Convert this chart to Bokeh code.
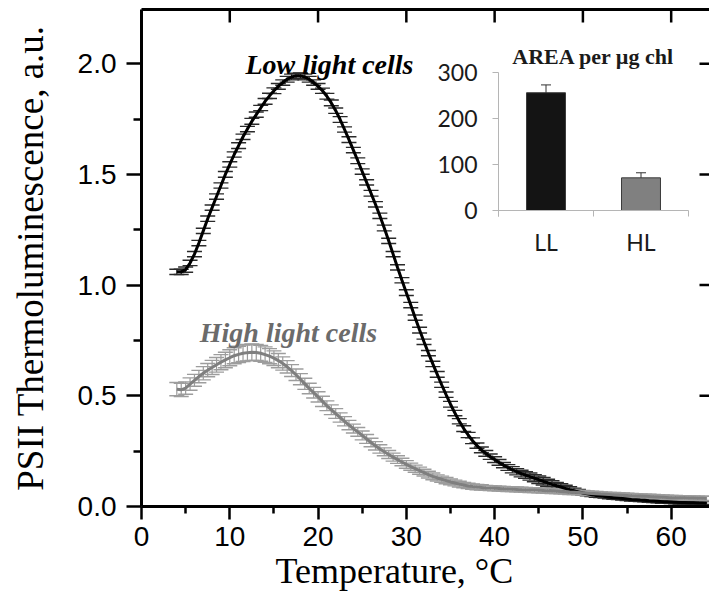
from bokeh.plotting import figure
from bokeh.models import (ColumnDataSource, Whisker, TeeHead, Range1d, LinearAxis,
                          FixedTicker, PrintfTickFormatter, Title)
from bokeh.core.properties import value
from bokeh.embed import file_html
from bokeh.resources import INLINE

# ---------------- data ----------------
temperature = [
    4.0, 4.5, 5.0, 5.5, 6.0, 6.5, 7.0, 7.5, 8.0, 8.5,
    9.0, 9.5, 10.0, 10.5, 11.0, 11.5, 12.0, 12.5, 13.0, 13.5,
    14.0, 14.5, 15.0, 15.5, 16.0, 16.5, 17.0, 17.5, 18.0, 18.5,
    19.0, 19.5, 20.0, 20.5, 21.0, 21.5, 22.0, 22.5, 23.0, 23.5,
    24.0, 24.5, 25.0, 25.5, 26.0, 26.5, 27.0, 27.5, 28.0, 28.5,
    29.0, 29.5, 30.0, 30.5, 31.0, 31.5, 32.0, 32.5, 33.0, 33.5,
    34.0, 34.5, 35.0, 35.5, 36.0, 36.5, 37.0, 37.5, 38.0, 38.5,
    39.0, 39.5, 40.0, 40.5, 41.0, 41.5, 42.0, 42.5, 43.0, 43.5,
    44.0, 44.5, 45.0, 45.5, 46.0, 46.5, 47.0, 47.5, 48.0, 48.5,
    49.0, 49.5, 50.0, 50.5, 51.0, 51.5, 52.0, 52.5, 53.0, 53.5,
    54.0, 54.5, 55.0, 55.5, 56.0, 56.5, 57.0, 57.5, 58.0, 58.5,
    59.0, 59.5, 60.0, 60.5, 61.0, 61.5, 62.0, 62.5, 63.0, 63.5,
    64.0,
]

low_light = [
    1.06, 1.06, 1.07, 1.10, 1.14, 1.19, 1.245, 1.30, 1.35, 1.40,
    1.45, 1.50, 1.545, 1.59, 1.63, 1.67, 1.705, 1.74, 1.77, 1.80,
    1.83, 1.855, 1.878, 1.898, 1.915, 1.93, 1.94, 1.945, 1.945, 1.94,
    1.93, 1.915, 1.898, 1.878, 1.853, 1.823, 1.788, 1.748, 1.703, 1.657,
    1.61, 1.562, 1.513, 1.464, 1.415, 1.365, 1.313, 1.258, 1.20, 1.14,
    1.08, 1.022, 0.966, 0.91, 0.853, 0.797, 0.744, 0.693, 0.644, 0.597,
    0.55, 0.505, 0.462, 0.422, 0.385, 0.352, 0.323, 0.297, 0.275, 0.256,
    0.24, 0.225, 0.212, 0.199, 0.187, 0.176, 0.166, 0.157, 0.149, 0.142,
    0.135, 0.128, 0.121, 0.114, 0.107, 0.10, 0.094, 0.088, 0.082, 0.076,
    0.071, 0.066, 0.061, 0.057, 0.053, 0.05, 0.047, 0.045, 0.042, 0.04,
    0.038, 0.036, 0.034, 0.032, 0.031, 0.029, 0.028, 0.026, 0.025, 0.024,
    0.022, 0.021, 0.02, 0.019, 0.018, 0.018, 0.017, 0.017, 0.016, 0.016,
    0.015,
]

low_light_err = [
    0.012, 0.012, 0.012, 0.012, 0.012, 0.012, 0.012, 0.012, 0.012, 0.012,
    0.012, 0.013, 0.012, 0.012, 0.013, 0.012, 0.012, 0.013, 0.012, 0.012,
    0.013, 0.012, 0.013, 0.013, 0.012, 0.013, 0.013, 0.012, 0.013, 0.013,
    0.013, 0.012, 0.013, 0.012, 0.013, 0.013, 0.012, 0.013, 0.012, 0.013,
    0.012, 0.013, 0.012, 0.012, 0.013, 0.012, 0.012, 0.013, 0.012, 0.012,
    0.012, 0.012, 0.013, 0.012, 0.012, 0.013, 0.012, 0.012, 0.012, 0.013,
    0.012, 0.012, 0.013, 0.012, 0.012, 0.013, 0.012, 0.013, 0.012, 0.013,
    0.013, 0.012, 0.013, 0.013, 0.012, 0.013, 0.014, 0.014, 0.015, 0.015,
    0.016, 0.016, 0.017, 0.017, 0.016, 0.016, 0.015, 0.015, 0.014, 0.013,
    0.012, 0.011, 0.010, 0.009, 0.008, 0.008, 0.007, 0.007, 0.007, 0.007,
    0.007, 0.007, 0.007, 0.007, 0.007, 0.007, 0.007, 0.007, 0.007, 0.007,
    0.007, 0.007, 0.007, 0.007, 0.007, 0.007, 0.007, 0.007, 0.007, 0.007,
    0.007,
]

high_light = [
    0.53, 0.527, 0.535, 0.553, 0.57, 0.587, 0.602, 0.616, 0.628, 0.64,
    0.652, 0.662, 0.672, 0.681, 0.687, 0.692, 0.695, 0.697, 0.696, 0.692,
    0.686, 0.679, 0.670, 0.659, 0.646, 0.631, 0.614, 0.595, 0.575, 0.554,
    0.533, 0.514, 0.495, 0.475, 0.455, 0.437, 0.42, 0.402, 0.385, 0.368,
    0.352, 0.337, 0.321, 0.305, 0.289, 0.274, 0.26, 0.247, 0.235, 0.223,
    0.212, 0.201, 0.19, 0.18, 0.171, 0.162, 0.153, 0.144, 0.136, 0.129,
    0.123, 0.117, 0.111, 0.106, 0.101, 0.097, 0.093, 0.09, 0.088, 0.086,
    0.084, 0.083, 0.082, 0.081, 0.08, 0.079, 0.078, 0.077, 0.076, 0.075,
    0.074, 0.074, 0.073, 0.072, 0.071, 0.07, 0.069, 0.068, 0.067, 0.065,
    0.064, 0.063, 0.062, 0.06, 0.059, 0.058, 0.056, 0.055, 0.054, 0.053,
    0.052, 0.051, 0.05, 0.049, 0.048, 0.047, 0.046, 0.045, 0.044, 0.043,
    0.042, 0.041, 0.04, 0.04, 0.039, 0.039, 0.038, 0.038, 0.037, 0.037,
    0.036,
]

high_light_err = [
    0.030, 0.030, 0.028, 0.028, 0.027, 0.028, 0.030, 0.030, 0.032, 0.033,
    0.034, 0.035, 0.036, 0.036, 0.037, 0.037, 0.037, 0.037, 0.036, 0.036,
    0.035, 0.034, 0.033, 0.032, 0.030, 0.028, 0.027, 0.026, 0.025, 0.025,
    0.024, 0.024, 0.023, 0.023, 0.022, 0.022, 0.022, 0.021, 0.021, 0.021,
    0.020, 0.020, 0.020, 0.020, 0.019, 0.019, 0.019, 0.018, 0.018, 0.018,
    0.017, 0.017, 0.017, 0.016, 0.016, 0.016, 0.015, 0.015, 0.015, 0.014,
    0.014, 0.014, 0.013, 0.013, 0.013, 0.012, 0.012, 0.012, 0.012, 0.012,
    0.011, 0.011, 0.011, 0.011, 0.011, 0.011, 0.011, 0.011, 0.011, 0.011,
    0.011, 0.011, 0.011, 0.011, 0.011, 0.011, 0.011, 0.011, 0.011, 0.011,
    0.010, 0.010, 0.010, 0.010, 0.010, 0.010, 0.010, 0.010, 0.010, 0.010,
    0.010, 0.010, 0.010, 0.010, 0.010, 0.010, 0.010, 0.010, 0.010, 0.010,
    0.010, 0.010, 0.010, 0.010, 0.010, 0.010, 0.010, 0.010, 0.010, 0.010,
    0.010,
]

x_ticks = [0, 10, 20, 30, 40, 50, 60]
x_minor = [5, 15, 25, 35, 45, 55, 65]
y_ticks = [0.0, 0.5, 1.0, 1.5, 2.0]
y_minor = [0.25, 0.75, 1.25, 1.75, 2.25]

inset_categories = ["LL", "HL"]
inset_area = [256, 71]
inset_err = [17, 11]
inset_ticks = [0, 100, 200, 300]
inset_colors = ["#141414", "#808080"]

# ---------------- layout constants ----------------
W, H = 709, 596
FL, FR, FT, FB = 141, 709, 9, 506          # frame edges (px)
X0, X1 = 0, 64.34
Y0, Y1 = 0, 2.245
XPX = (FR - FL) / (X1 - X0)                # px per degree
YPX = (FB - FT) / (Y1 - Y0)                # px per unit

# inset: category -0.5 at px 498, 1.5 at px 688; value 0 at py 210, 300 at py 72
IPX_L, IPX_R = 498, 688
IPY_0, IPY_300 = 210, 72
ix_per = (IPX_R - IPX_L) / 2.0
iy_per = (IPY_0 - IPY_300) / 300.0
ix_start = -0.5 - (IPX_L - FL) / ix_per
ix_end = 1.5 + (FR - IPX_R) / ix_per
iy_start = -(FB - IPY_0) / iy_per
iy_end = 300 + (IPY_300 - FT) / iy_per

SERIF = "Liberation Serif"
SANS = "Liberation Sans"

p = figure(width=W, height=H, output_backend="svg", toolbar_location=None,
           x_range=Range1d(X0, X1), y_range=Range1d(Y0, Y1),
           min_border_left=FL, min_border_right=W - FR, min_border_top=FT,
           min_border_bottom=H - FB)
p.outline_line_color = None
p.xgrid.visible = False
p.ygrid.visible = False
p.background_fill_color = "white"
p.border_fill_color = "white"

p.extra_x_ranges = {"ix": Range1d(ix_start, ix_end)}
p.extra_y_ranges = {"iy": Range1d(iy_start, iy_end)}

# main axes
xa = p.below[0]
xa.ticker = FixedTicker(ticks=x_ticks, minor_ticks=x_minor)
ya = p.left[0]
ya.ticker = FixedTicker(ticks=y_ticks, minor_ticks=y_minor)
ya.formatter = PrintfTickFormatter(format="%.1f")
for ax in (xa, ya):
    ax.axis_line_width = 3
    ax.axis_line_color = "black"
    ax.major_tick_line_width = 2.5
    ax.minor_tick_line_width = 2.5
    ax.major_tick_in = 0
    ax.minor_tick_in = 0
    ax.major_label_text_font = SANS
    ax.major_label_text_font_size = "28px"
    ax.major_label_text_color = "black"
    ax.axis_label_text_font = SERIF
    ax.axis_label_text_font_style = "normal"
    ax.axis_label_text_color = "black"
xa.major_tick_out = 13
xa.minor_tick_out = 7
xa.major_label_standoff = 7
ya.major_tick_out = 15
ya.minor_tick_out = 8
ya.major_label_standoff = 10
ya.axis_label = "PSII Thermoluminescence, a.u."
ya.axis_label_text_font_size = "37px"
ya.axis_label_standoff = 24

# x-axis title, placed in the bottom panel left of the frame centre as in the original
p.add_layout(Title(text="Temperature, °C", align="left", offset=275 - FL,
                   text_font=SERIF, text_font_size="36px", text_font_style="normal",
                   text_color="black", standoff=0), "below")

# top frame line (no ticks of its own)
top_ax = LinearAxis(ticker=FixedTicker(ticks=[], minor_ticks=[]),
                    major_tick_in=0, major_tick_out=0, minor_tick_in=0, minor_tick_out=0,
                    axis_line_width=3, major_label_standoff=0)
p.add_layout(top_ax, "above")

# inward ticks on top and right edges
p.segment(x0=x_ticks, y0=[Y1] * len(x_ticks), x1=x_ticks,
          y1=[Y1 - 13 / YPX] * len(x_ticks), line_color="black", line_width=2.5)
p.segment(x0=[X1 - 10 / XPX] * len(y_ticks), y0=y_ticks, x1=[X1] * len(y_ticks),
          y1=y_ticks, line_color="black", line_width=2.5)

# ---------------- curves ----------------
src_low = ColumnDataSource(dict(
    t=temperature, y=low_light,
    up=[v + e for v, e in zip(low_light, low_light_err)],
    lo=[v - e for v, e in zip(low_light, low_light_err)]))
src_high = ColumnDataSource(dict(
    t=temperature, y=high_light,
    up=[v + e for v, e in zip(high_light, high_light_err)],
    lo=[v - e for v, e in zip(high_light, high_light_err)]))

p.add_layout(Whisker(source=src_low, base="t", upper="up", lower="lo", dimension="height",
                     line_color="#222222", line_width=1.2,
                     upper_head=TeeHead(size=15, line_color="#2a2a2a", line_width=1.4),
                     lower_head=TeeHead(size=15, line_color="#2a2a2a", line_width=1.4)))
p.line("t", "y", source=src_low, line_color="black", line_width=3)

p.add_layout(Whisker(source=src_high, base="t", upper="up", lower="lo", dimension="height",
                     line_color="#9a9a9a", line_width=1.2,
                     upper_head=TeeHead(size=15, line_color="#9d9d9d", line_width=1.4),
                     lower_head=TeeHead(size=15, line_color="#9d9d9d", line_width=1.4)))
p.line("t", "y", source=src_high, line_color="#7f7f7f", line_width=3)

p.text(x=[11.78], y=[1.998], text=["Low light cells"], text_font=value(SERIF),
       text_font_size="28px", text_font_style="bold italic", text_color="black",
       text_align="left", text_baseline="alphabetic")
p.text(x=[6.6], y=[0.786], text=["High light cells"], text_font=value(SERIF),
       text_font_size="28px", text_font_style="bold italic", text_color="#6b6b6b",
       text_align="left", text_baseline="alphabetic")

# ---------------- inset bar chart ----------------
INSET_AXIS = "#b5b5b5"
cat_x = list(range(len(inset_categories)))
p.vbar(x=cat_x, top=inset_area, bottom=0, width=0.41, fill_color=inset_colors,
       line_color="#3a3a3a", line_width=1, x_range_name="ix", y_range_name="iy")
src_inset = ColumnDataSource(dict(
    x=cat_x,
    up=[a + e for a, e in zip(inset_area, inset_err)],
    lo=[a - e for a, e in zip(inset_area, inset_err)]))
p.add_layout(Whisker(source=src_inset, base="x", upper="up", lower="lo", dimension="height",
                     line_color="#333333", line_width=1,
                     upper_head=TeeHead(size=10, line_color="#333333", line_width=1),
                     lower_head=TeeHead(size=10, line_color="#333333", line_width=1),
                     x_range_name="ix", y_range_name="iy"))

bounds = [c - 0.5 for c in cat_x] + [cat_x[-1] + 0.5]
tick_down = 6 / iy_per
tick_left = 6 / ix_per
p.segment(x0=[bounds[0]], y0=[0], x1=[bounds[-1]], y1=[0], line_color=INSET_AXIS,
          line_width=1, x_range_name="ix", y_range_name="iy")
p.segment(x0=[bounds[0]], y0=[-tick_down], x1=[bounds[0]], y1=[inset_ticks[-1]],
          line_color=INSET_AXIS, line_width=1, x_range_name="ix", y_range_name="iy")
p.segment(x0=bounds, y0=[0] * len(bounds), x1=bounds, y1=[-tick_down] * len(bounds),
          line_color=INSET_AXIS, line_width=1, x_range_name="ix", y_range_name="iy")
p.segment(x0=[bounds[0] - tick_left] * len(inset_ticks), y0=inset_ticks,
          x1=[bounds[0]] * len(inset_ticks), y1=inset_ticks,
          line_color=INSET_AXIS, line_width=1, x_range_name="ix", y_range_name="iy")
p.text(x=[bounds[0] - 21 / ix_per] * len(inset_ticks), y=inset_ticks,
       text=[str(t) for t in inset_ticks], text_font=value("Lato"), text_font_size="23px",
       text_color="#1a1a1a", text_align="right", text_baseline="middle",
       x_range_name="ix", y_range_name="iy")
p.text(x=cat_x, y=[-31 / iy_per] * len(cat_x), text=inset_categories,
       text_font=value("Lato"), text_font_size="23px", text_color="#1a1a1a",
       text_align="center", text_baseline="middle", x_range_name="ix", y_range_name="iy")
p.text(x=[0.5], y=[300 + 16 / iy_per], text=["AREA per µg chl"], text_font=value(SERIF),
       text_font_size="22px", text_font_style="bold", text_color="#1a1a1a",
       text_align="center", text_baseline="middle", x_range_name="ix", y_range_name="iy")

open("out.html", "w").write(file_html(p, INLINE))
